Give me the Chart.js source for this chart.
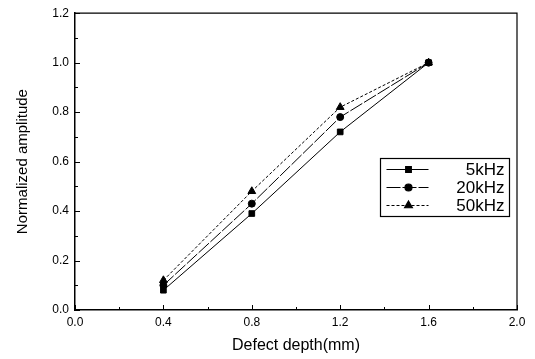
<!DOCTYPE html>
<html>
<head>
<meta charset="utf-8">
<script src="https://cdn.jsdelivr.net/npm/chart.js@4.4.1/dist/chart.umd.min.js"></script>
<style>
  html, body { margin: 0; padding: 0; background: #fff; }
  #wrap { width: 535px; height: 359px; }
</style>
</head>
<body>
<div id="wrap"><canvas id="chart" width="535" height="359"></canvas></div>
<script>
// data
const depths = [0.4, 0.8, 1.2, 1.6];
const amp5k = [0.08, 0.39, 0.72, 1.0];
const amp20k = [0.10, 0.43, 0.78, 1.0];
const amp50k = [0.12, 0.48, 0.82, 1.0];
const seriesNames = ['5kHz', '20kHz', '50kHz'];
const xTicks = [0.0, 0.4, 0.8, 1.2, 1.6, 2.0];
const yTicks = [0.0, 0.2, 0.4, 0.6, 0.8, 1.0, 1.2];

const font = "'Liberation Sans', Arial, sans-serif";

function points(vals) {
    return depths.map((d, i) => ({ x: d, y: vals[i] }));
}

// inward tick marks on the left and bottom axes + boxed legend
const extras = {
    id: 'extras',
    afterDraw(chart) {
        const ctx = chart.ctx;
        const xs = chart.scales.x, ys = chart.scales.y;
        const a = chart.chartArea;
        ctx.save();
        ctx.strokeStyle = '#000';
        ctx.lineWidth = 1;
        ctx.beginPath();
        for (let v = 0; v <= 2.0001; v += 0.2) {
            const px = Math.round(xs.getPixelForValue(v)) + 0.5;
            const len = (Math.round(v * 10) % 4 === 0) ? 5 : 3;
            ctx.moveTo(px, a.bottom);
            ctx.lineTo(px, a.bottom - len);
        }
        for (let v = 0; v <= 1.2001; v += 0.1) {
            const py = Math.round(ys.getPixelForValue(v)) + 0.5;
            const len = (Math.round(v * 10) % 2 === 0) ? 5 : 3;
            ctx.moveTo(a.left, py);
            ctx.lineTo(a.left + len, py);
        }
        ctx.stroke();

        // legend box
        const bx = 380.5, by = 158.5, bw = 129, bh = 58;
        ctx.lineWidth = 1.2;
        ctx.strokeRect(bx, by, bw, bh);
        chart.data.datasets.forEach((ds, i) => {
            const yy = by + 11 + i * 18;
            ctx.save();
            ctx.lineWidth = 1;
            ctx.setLineDash(ds.borderDash || []);
            ctx.beginPath();
            ctx.moveTo(bx + 6, yy);
            ctx.lineTo(bx + 48, yy);
            ctx.stroke();
            ctx.restore();
            Chart.helpers.drawPoint(ctx, {
                pointStyle: ds.pointStyle,
                radius: ds.pointRadius,
                rotation: 0,
                borderWidth: 1
            }, bx + 28, yy);
            ctx.fillStyle = '#000';
            ctx.font = '17px ' + font;
            ctx.textAlign = 'right';
            ctx.textBaseline = 'middle';
            ctx.fillText(ds.label, bx + bw - 5, yy + 1);
        });
        ctx.restore();
    }
};

function series(label, vals, style, dash, r) {
    return {
        label: label,
        data: points(vals),
        showLine: true,
        borderColor: '#000',
        backgroundColor: '#000',
        borderWidth: 1,
        borderDash: dash,
        pointStyle: style,
        pointRadius: r,
        pointBorderWidth: 1,
        pointBackgroundColor: '#000',
        pointBorderColor: '#000'
    };
}

new Chart(document.getElementById('chart'), {
    type: 'scatter',
    data: {
        datasets: [
            series(seriesNames[0], amp5k, 'rect', [], 4),
            series(seriesNames[1], amp20k, 'circle', [14, 2], 3.5),
            series(seriesNames[2], amp50k, 'triangle', [3, 2], 4.5)
        ]
    },
    options: {
        responsive: false,
        animation: false,
        layout: { padding: { top: 10, right: 18, left: 0, bottom: 0 } },
        plugins: { legend: { display: false }, tooltip: { enabled: false } },
        scales: {
            x: {
                type: 'linear',
                min: 0, max: 2.0,
                afterBuildTicks: s => { s.ticks = xTicks.map(v => ({ value: v })); },
                afterFit: s => { s.height = 49; },
                grid: { display: false, drawTicks: false },
                border: { display: true, color: '#000', width: 1.5 },
                ticks: {
                    padding: 5,
                    color: '#000',
                    font: { family: font, size: 12 },
                    callback: v => v.toFixed(1)
                },
                title: {
                    display: true,
                    text: 'Defect depth(mm)',
                    color: '#000',
                    font: { family: font, size: 16 },
                    padding: { top: 2, bottom: 4 }
                }
            },
            y: {
                type: 'linear',
                min: 0, max: 1.2,
                afterBuildTicks: s => { s.ticks = yTicks.map(v => ({ value: v })); },
                afterFit: s => { s.width = 75; },
                grid: { display: false, drawTicks: false },
                border: { display: true, color: '#000', width: 1.5 },
                ticks: {
                    padding: 6,
                    color: '#000',
                    font: { family: font, size: 12 },
                    callback: v => v.toFixed(1)
                },
                title: {
                    display: true,
                    text: 'Normalized amplitude',
                    color: '#000',
                    font: { family: font, size: 15 },
                    padding: { top: 14, bottom: 0 }
                }
            }
        }
    },
    plugins: [{
        id: 'frame',
        afterDraw(chart) {
            const a = chart.chartArea, ctx = chart.ctx;
            ctx.save();
            ctx.strokeStyle = '#000';
            ctx.lineWidth = 1.2;
            ctx.beginPath();
            ctx.moveTo(a.left, a.top);
            ctx.lineTo(a.right, a.top);
            ctx.lineTo(a.right, a.bottom);
            ctx.stroke();
            ctx.restore();
        }
    }, extras]
});
</script>
</body>
</html>
